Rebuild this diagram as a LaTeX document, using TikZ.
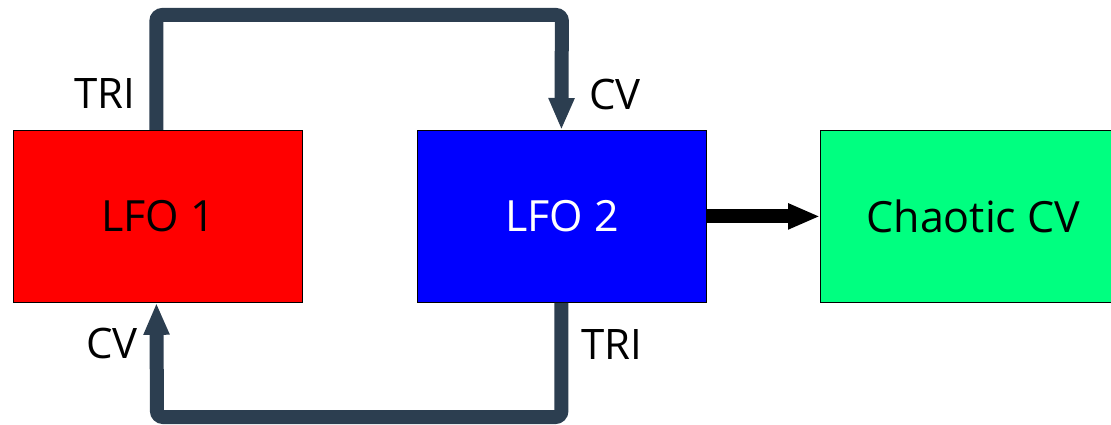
\documentclass[tikz,border=0pt]{standalone}
\usepackage{fontspec}
\setmainfont{Open Sans}
\usetikzlibrary{arrows.meta}
\definecolor{wire}{HTML}{2C3E50}
\definecolor{cvgreen}{HTML}{00FF80}
\begin{document}
\begin{tikzpicture}[x=1pt,y=-1pt,
  box/.style={draw=black,line width=0.8pt,minimum width=289pt,minimum height=172pt,anchor=north west,inner sep=0pt,font=\fontsize{43}{50}\selectfont},
  lbl/.style={font=\fontsize{42}{50}\selectfont,inner sep=0pt},
  wirepath/.style={draw=wire,line width=14pt,rounded corners=6pt,-{Triangle[width=24pt,length=32pt]}},
  thick arrow/.style={draw=black,line width=14pt,-{Triangle[width=24pt,length=32pt]}}]
\useasboundingbox (0,0) rectangle (1111,425);
\node[box,fill=red] (l1) at (13,130) {LFO 1};
\node[box,fill=blue,text=white] (l2) at (417,130) {LFO 2};
\node[box,fill=cvgreen,minimum width=306pt] (ch) at (820,130) {Chaotic CV};
\coordinate (t1) at (157,15);
\coordinate (b1) at (157,417);
\draw[wirepath] ([xshift=-1.5pt]l1.north) |- (t1 -| l2.north) -- ([xshift=-0.5pt]l2.north);
\draw[wirepath] ([xshift=-0.5pt]l2.south) |- (b1) -- ([xshift=-1.5pt]l1.south);
\draw[thick arrow] (l2.east) -- (ch.west);
\node[lbl] (tri1) at (105,94) {TRI};
\node[lbl] (cv1) at (615,94) {CV};
\node[lbl] (cv2) at (112,343) {CV};
\node[lbl] (tri2) at (612,345) {TRI};
\end{tikzpicture}
\end{document}
